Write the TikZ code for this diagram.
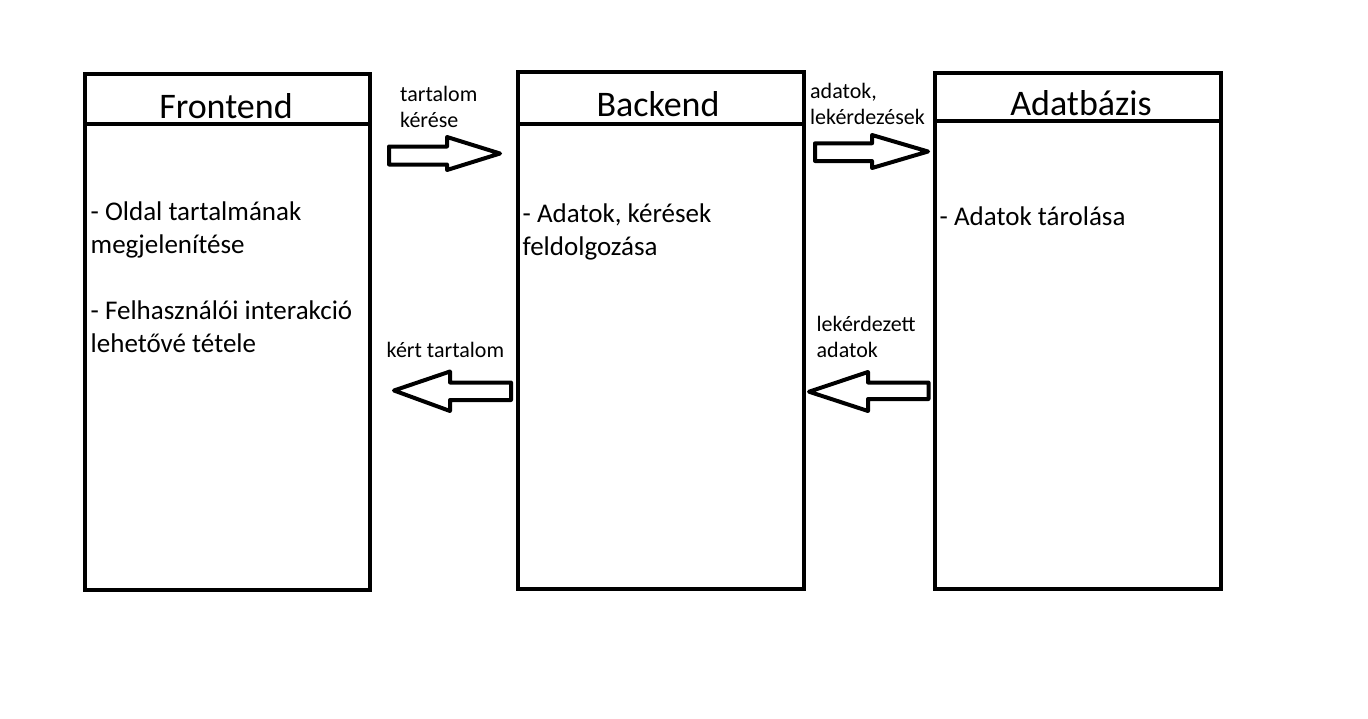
\documentclass[tikz,border=0pt]{standalone}
\usepackage{fontspec}
\setmainfont{Carlito}
\begin{document}
\begin{tikzpicture}[x=1pt,y=-1pt,
  box/.style={draw, line width=4pt, inner sep=0pt, outer sep=0pt, anchor=north west},
  boxline/.style={line width=4pt},
  title/.style={anchor=base, inner sep=0pt, font=\fontsize{36}{44}\selectfont},
  body/.style={anchor=north west, align=left, inner sep=0pt, font=\fontsize{27}{33}\selectfont, execute at begin node=\strut},
  lbl/.style={anchor=north west, align=left, inner sep=0pt, font=\fontsize{22}{26}\selectfont, execute at begin node=\strut},
  barrow/.style={draw, line width=4pt, line join=round, fill=white}]
\useasboundingbox (0,0) rectangle (1368,718);

% boxes
\node[box, minimum width=285pt, minimum height=516pt] (front) at (85,74) {};
\node[box, minimum width=286.5pt, minimum height=517pt] (back) at (517.5,72) {};
\node[box, minimum width=286pt, minimum height=516.5pt] (db) at (934.5,72.5) {};

% header lines
\draw[boxline] (front.west |- 0,123.5) -- (front.east |- 0,123.5);
\draw[boxline] (back.west |- 0,124) -- (back.east |- 0,124);
\draw[boxline] (db.west |- 0,121) -- (db.east |- 0,121);

% titles
\node[title] (ftitle) at (226,118) {Frontend};
\node[title] (btitle) at (658,116.5) {Backend};
\node[title] (dtitle) at (1081,115) {Adatbázis};

% body texts
\node[body] (fbody) at (90.5,202) {- Oldal tartalmának\\megjelenítése\\[33pt]- Felhasználói interakció\\lehetővé tétele};
\node[body] (bbody) at (522.5,204) {- Adatok, kérések\\feldolgozása};
\node[body] (dbody) at (939.5,202) {- Adatok tárolása};

% arrow labels
\node[lbl] (l1) at (400,85.8) {tartalom\\kérése};
\node[lbl] (l2) at (810,83) {adatok,\\lekérdezések};
\node[lbl] (l3) at (386.5,338.8) {kért tartalom};
\node[lbl] (l4) at (816.5,315.8) {lekérdezett\\adatok};

% block arrows
\draw[barrow] (389,146.5) -- (447,146.5) -- (447,137) -- (500,153.5) -- (447,170) -- (447,164.5) -- (389,164.5) -- cycle;
\draw[barrow] (815,143.3) -- (872,143.3) -- (872,135) -- (928,151.5) -- (872,168) -- (872,161) -- (815,161) -- cycle;
\draw[barrow] (511,382.5) -- (450,382.5) -- (450,371.5) -- (394,390.5) -- (450,411) -- (450,400) -- (511,400) -- cycle;
\draw[barrow] (928.5,382.5) -- (868,382.5) -- (868,372) -- (809,391.7) -- (868,411) -- (868,399) -- (928.5,399) -- cycle;
\end{tikzpicture}
\end{document}
